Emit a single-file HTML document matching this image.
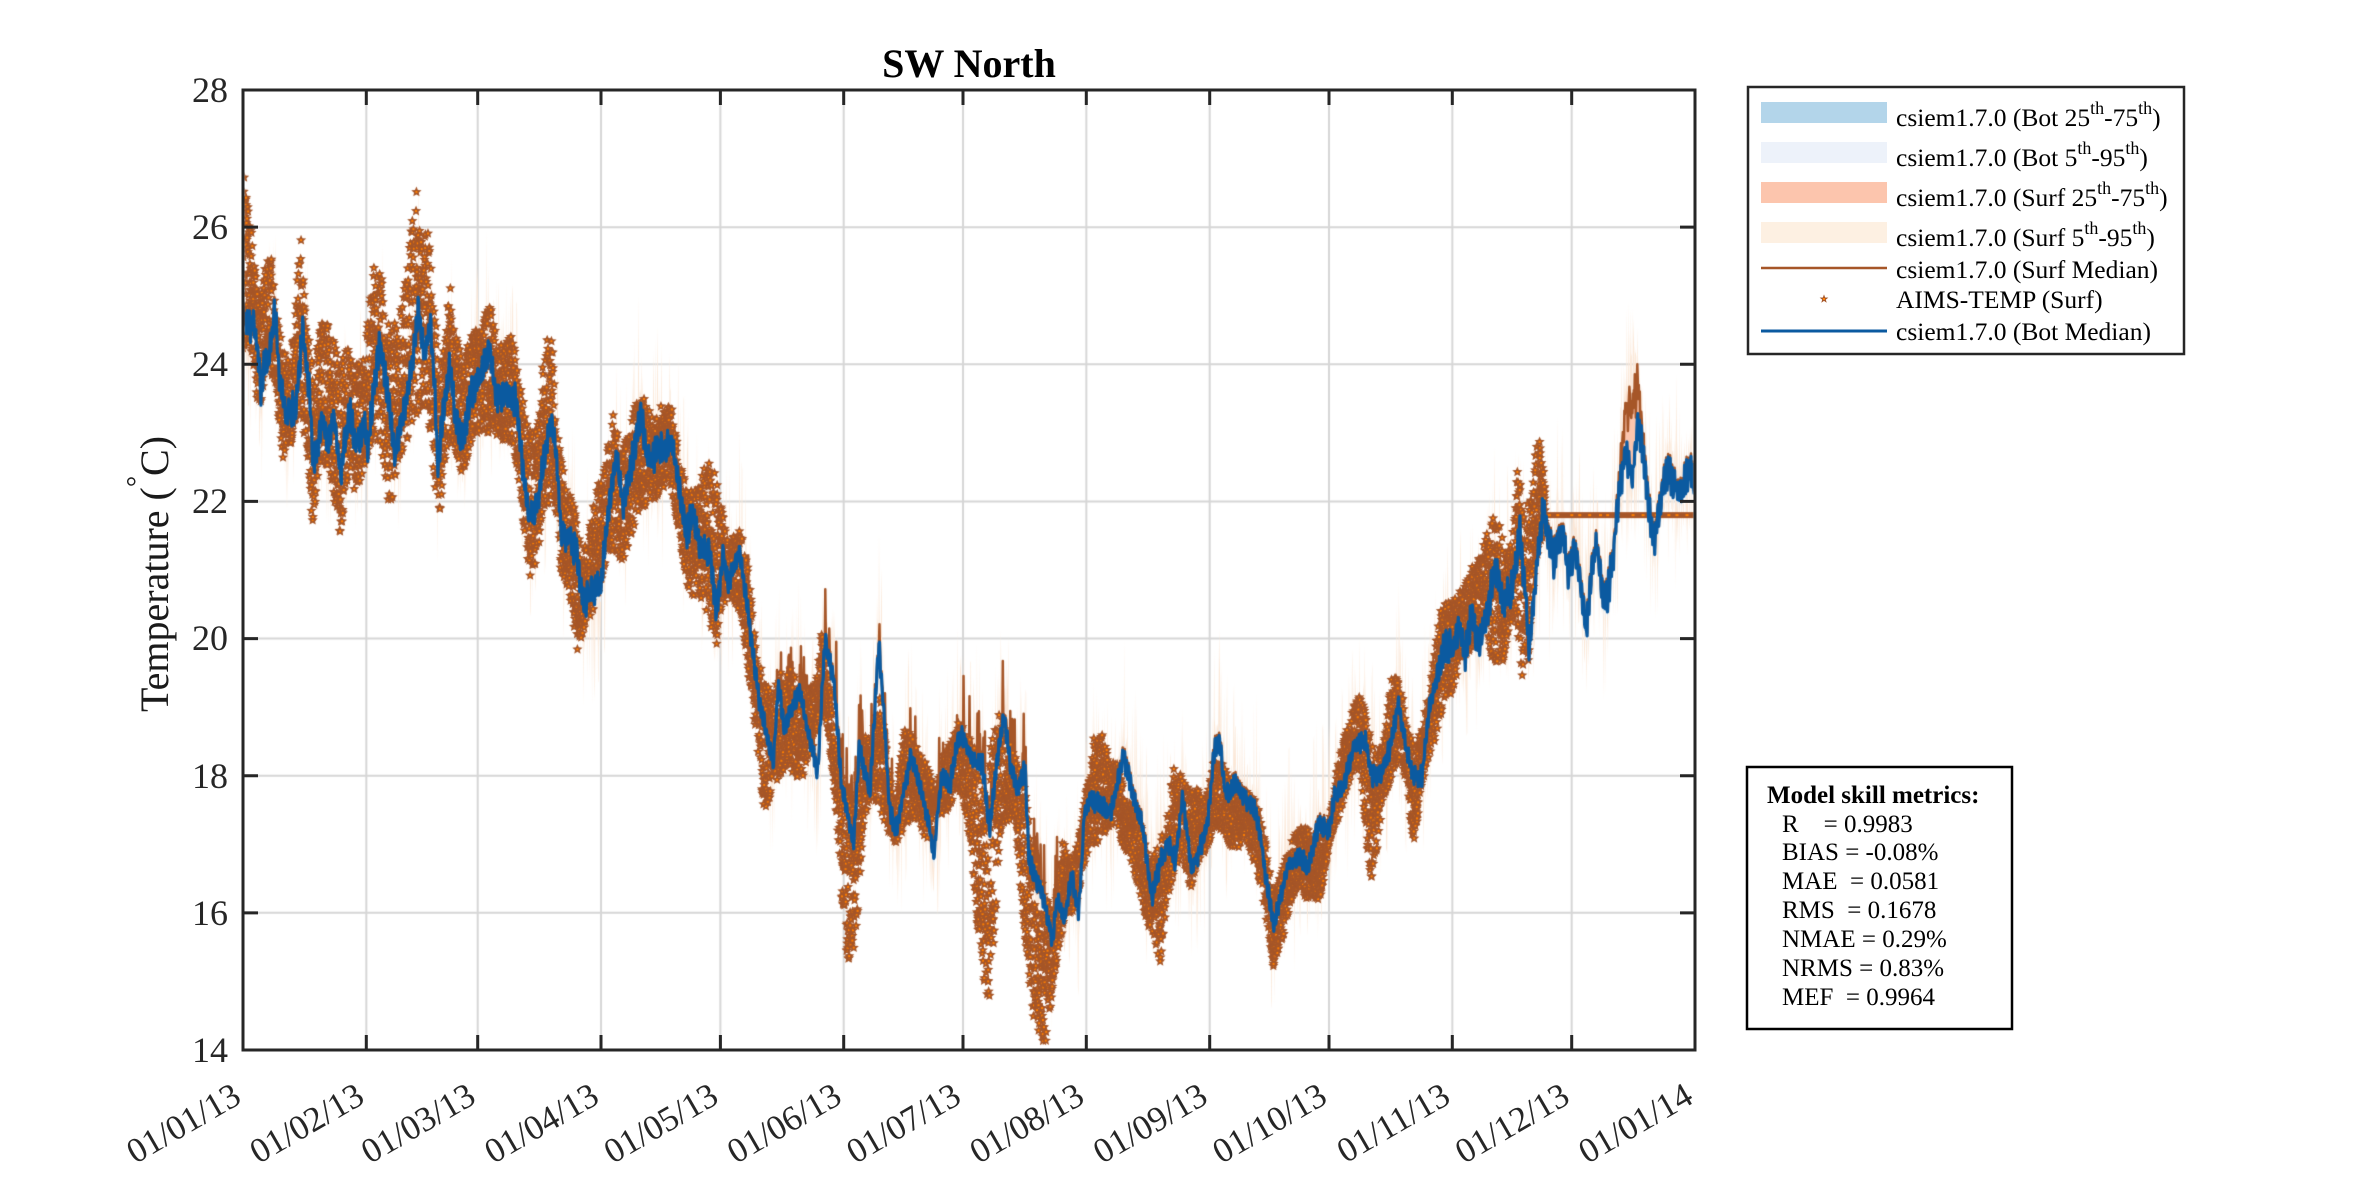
<!DOCTYPE html>
<html><head><meta charset="utf-8">
<style>
body{margin:0;background:#fff}
#w{position:relative;width:2362px;height:1181px;overflow:hidden;background:#fff}
canvas,svg{position:absolute;left:0;top:0}
text{font-family:"Liberation Serif","Times New Roman",serif}
</style></head>
<body><div id="w">
<canvas id="c" width="2362" height="1181"></canvas>
<svg width="2362" height="1181" viewBox="0 0 2362 1181">
<rect x="243" y="90" width="1452" height="960" fill="none" stroke="#262626" stroke-width="3"/>
<g stroke="#262626" stroke-width="3">
<path d="M366.3 1050V1035M477.7 1050V1035M601 1050V1035M720.4 1050V1035M843.7 1050V1035M963 1050V1035M1086.3 1050V1035M1209.7 1050V1035M1329 1050V1035M1452.3 1050V1035M1571.7 1050V1035"/>
<path d="M366.3 90V105M477.7 90V105M601 90V105M720.4 90V105M843.7 90V105M963 90V105M1086.3 90V105M1209.7 90V105M1329 90V105M1452.3 90V105M1571.7 90V105"/>
<path d="M243 912.9H258M243 775.7H258M243 638.6H258M243 501.4H258M243 364.3H258M243 227.1H258"/>
<path d="M1695 912.9H1680M1695 775.7H1680M1695 638.6H1680M1695 501.4H1680M1695 364.3H1680M1695 227.1H1680"/>
</g>
<g font-size="36" fill="#262626" text-anchor="end">
<text x="228" y="102">28</text>
<text x="228" y="239">26</text>
<text x="228" y="376">24</text>
<text x="228" y="513">22</text>
<text x="228" y="650">20</text>
<text x="228" y="788">18</text>
<text x="228" y="925">16</text>
<text x="228" y="1062">14</text>
</g>
<g font-size="35" fill="#262626" text-anchor="end">
<text transform="translate(243,1102) rotate(-30)">01/01/13</text>
<text transform="translate(366.3,1102) rotate(-30)">01/02/13</text>
<text transform="translate(477.7,1102) rotate(-30)">01/03/13</text>
<text transform="translate(601,1102) rotate(-30)">01/04/13</text>
<text transform="translate(720.4,1102) rotate(-30)">01/05/13</text>
<text transform="translate(843.7,1102) rotate(-30)">01/06/13</text>
<text transform="translate(963,1102) rotate(-30)">01/07/13</text>
<text transform="translate(1086.3,1102) rotate(-30)">01/08/13</text>
<text transform="translate(1209.7,1102) rotate(-30)">01/09/13</text>
<text transform="translate(1329,1102) rotate(-30)">01/10/13</text>
<text transform="translate(1452.3,1102) rotate(-30)">01/11/13</text>
<text transform="translate(1571.7,1102) rotate(-30)">01/12/13</text>
<text transform="translate(1695,1102) rotate(-30)">01/01/14</text>
</g>
<text transform="translate(168,712) rotate(-90)" font-size="40" fill="#1a1a1a">Temperature (<tspan font-size="28" dy="-22">°</tspan><tspan dy="22">C)</tspan></text>
<text x="969" y="77" font-size="40" font-weight="bold" text-anchor="middle" fill="#000">SW North</text>

<rect x="1748" y="87" width="436" height="267" fill="#fff" stroke="#262626" stroke-width="2.5"/>
<rect x="1761" y="102" width="126" height="21" fill="#b3d5ea"/>
<rect x="1761" y="142" width="126" height="21" fill="#edf2fa"/>
<rect x="1761" y="182" width="126" height="21" fill="#fcc5ad"/>
<rect x="1761" y="222" width="126" height="21" fill="#fdf0e2"/>
<line x1="1761" y1="268" x2="1887" y2="268" stroke="#a65628" stroke-width="2.5"/>
<polygon points="1824,294.4 1825.12,297.46 1828.37,297.58 1825.81,299.59 1826.7,302.72 1824,300.9 1821.3,302.72 1822.19,299.59 1819.63,297.58 1822.88,297.46" fill="#a65628"/>
<rect x="1823" y="298" width="2" height="2" fill="#ff7f00"/>
<line x1="1761" y1="331" x2="1887" y2="331" stroke="#0b5aa0" stroke-width="3"/>
<g font-size="25.5" fill="#000">
<text x="1896" y="126">csiem1.7.0 (Bot 25<tspan font-size="18" dy="-12">th</tspan><tspan dy="12">-75</tspan><tspan font-size="18" dy="-12">th</tspan><tspan dy="12">)</tspan></text>
<text x="1896" y="166">csiem1.7.0 (Bot 5<tspan font-size="18" dy="-12">th</tspan><tspan dy="12">-95</tspan><tspan font-size="18" dy="-12">th</tspan><tspan dy="12">)</tspan></text>
<text x="1896" y="206">csiem1.7.0 (Surf 25<tspan font-size="18" dy="-12">th</tspan><tspan dy="12">-75</tspan><tspan font-size="18" dy="-12">th</tspan><tspan dy="12">)</tspan></text>
<text x="1896" y="246">csiem1.7.0 (Surf 5<tspan font-size="18" dy="-12">th</tspan><tspan dy="12">-95</tspan><tspan font-size="18" dy="-12">th</tspan><tspan dy="12">)</tspan></text>
<text x="1896" y="278">csiem1.7.0 (Surf Median)</text>
<text x="1896" y="308">AIMS-TEMP (Surf)</text>
<text x="1896" y="340">csiem1.7.0 (Bot Median)</text>
</g>

<rect x="1747" y="767" width="265" height="262" fill="#fff" stroke="#000" stroke-width="2.5"/>
<g font-size="25" fill="#000">
<text x="1767" y="803" font-weight="bold">Model skill metrics:</text>
<text x="1782" y="832">R&#160;&#160;&#160;&#160;= 0.9983</text>
<text x="1782" y="860">BIAS = -0.08%</text>
<text x="1782" y="889">MAE&#160;&#160;= 0.0581</text>
<text x="1782" y="918">RMS&#160;&#160;= 0.1678</text>
<text x="1782" y="947">NMAE = 0.29%</text>
<text x="1782" y="976">NRMS = 0.83%</text>
<text x="1782" y="1005">MEF&#160;&#160;= 0.9964</text>
</g>
</svg>
</div>
<script>
(function(){
var rng=(function(a){return function(){a|=0;a=a+0x6D2B79F5|0;var t=Math.imul(a^a>>>15,1|a);t=t+Math.imul(t^t>>>7,61|t)^t;return((t^t>>>14)>>>0)/4294967296;};})(12345);
var cv=document.getElementById('c');var c=cv.getContext('2d');
function X(d){return 243+d*1452/365;}function Y(t){return 90+(28-t)*960/14;}
function interp(K,t){if(t<=K[0][0])return K[0][1];for(var i=1;i<K.length;i++){if(t<=K[i][0]){var a=K[i-1],b=K[i];return a[1]+(b[1]-a[1])*(t-a[0])/(b[0]-a[0]);}}return K[K.length-1][1];}
var B=[[0,24.7],[1.5,24.5],[2.5,24.6],[3.4,24.4],[4.6,23.6],[5.4,24.0],[6.5,24.1],[8,24.8],[9.2,23.8],[10.9,23.2],[12,23.3],[13.4,23.4],[15,24.55],[16.8,23.5],[17.6,22.5],[19,22.9],[20,23.2],[21.5,22.8],[22.6,23.3],[23.5,22.9],[24.7,22.4],[25.5,22.9],[26.8,23.3],[28,22.9],[29.3,22.9],[30.5,23.1],[31.4,22.8],[33,23.7],[34.4,24.3],[35.5,23.9],[36.9,23.3],[38.1,22.65],[39.5,23.1],[41,23.5],[42.7,24.0],[44,24.8],[45.7,24.15],[47,24.65],[48.2,23.65],[49,22.5],[50.3,23.3],[52,24.0],[53.6,23.1],[55.3,22.9],[57.8,23.65],[60.4,23.9],[62,24.2],[63.7,23.5],[65.5,23.6],[67,23.5],[68.7,23.5],[70,22.65],[71.7,21.8],[73.3,21.8],[74.6,22.2],[76.3,22.8],[77.5,23.2],[78.8,22.65],[80,21.5],[82,21.5],[83.8,21.25],[85.5,20.5],[87.6,20.7],[90,20.8],[91.8,21.8],[93.9,22.7],[95.6,21.9],[97.2,22.4],[100,23.3],[101.8,22.6],[104,22.7],[105.6,22.8],[108,22.8],[109.4,22.3],[111.5,21.5],[113,21.9],[114.8,21.3],[117.4,21.25],[119,20.4],[120.7,21.25],
[122,20.8],[124.8,21.3],[126,20.8],[128.4,19.7],[129.7,19.1],[132,18.5],[133.3,18.15],[134.6,19.35],[136,18.7],[138.2,19.0],[140,19.25],[141.8,18.7],[144.5,18.05],[146.3,20.0],[148.6,19.35],[150.4,17.9],[151.7,17.55],[153.5,17.0],[154.9,18.4],[157.6,17.75],[159.8,19.95],[161.2,18.85],[162.5,17.5],[164.3,17.2],[166,17.75],[167.9,18.3],[169.7,17.95],[171.5,17.55],[173.7,16.85],[175.5,18.0],[177.8,17.9],[179.6,18.5],[180.9,18.6],[183.2,18.2],[185.9,18.15],[187.7,17.2],[189.5,18.2],[191.3,18.9],[193,18.1],[194.8,17.8],[196.6,18.15],[197.5,16.8],[199.3,16.5],[201.1,16.25],[203.4,15.6],[204.7,16.2],[206.5,15.9],[208.3,16.55],[210.1,16.0],[211.5,17.45],[212.8,17.65],[215.5,17.6],[218.2,17.45],[221.3,18.3],[223.6,17.75],[226.3,17.2],[228.5,16.2],[230.8,16.8],[232.6,17.0],[234.4,16.75],[236.2,17.7],[238.4,16.65],[239.8,16.8],[242.5,17.3],[244.2,18.4],[245.5,18.5],[247,17.7],[249.3,17.9],[251.5,17.7],[254.2,17.5],
[255.6,17.2],[256.9,16.6],[259.1,15.8],[260.9,16.25],[262.7,16.7],[265,16.8],[267.7,16.7],[270.4,17.3],[273,17.2],[274.4,17.7],[276.6,17.85],[279.3,18.4],[282,18.55],[283.8,18.0],[286,18.0],[288.3,18.4],[290.5,19.05],[292.3,18.4],[294.1,18.0],[296.4,18.0],[298.2,19.0],[300,19.4],[301.7,19.85],[304,19.85],[305.8,20.15],[307.1,19.7],[308.9,20.4],[310.7,19.85],[312.9,20.4],[314.7,21.1],[316.5,20.6],[318.3,20.6],[319.7,20.95],[321,21.6],[322.4,20.6],[323.3,19.85],[324.6,20.6],[325.5,21.3],[326.9,21.9],[328.2,21.45],[329.5,21.15],[331.8,21.6],[333.1,20.95],[334.9,21.3],[336.7,20.6],[337.6,20.1],[339,20.95],[340.3,21.45],[341.7,20.6],[343,20.6],[344.3,21.15],[345.7,22.0],[347.5,22.75],[349.3,22.3],[350.6,23.2],[352,22.75],[353.3,21.9],[354.7,21.45],[356.5,22.0],[357.8,22.4],[359.6,22.3],[360.9,22.1],[362.7,22.3],[363.6,22.5],[365,22.2]];
var U=[[0,26.8],[1,26.6],[2,26.0],[3,25.4],[4,24.8],[5,25.2],[6,25.6],[7,25.7],[8,25.0],[10,24.2],[12,24.0],[13.5,25.2],[14.5,25.9],[16,24.6],[18,23.8],[19,24.6],[21,24.6],[22.5,24.5],[24,24.0],[26,24.3],[28,24.0],[30,24.0],[32,25.0],[33.5,25.7],[35,25.3],[36,24.6],[38,24.6],[40,24.9],[42,25.8],[43.5,26.8],[45,25.8],[46.5,26.1],[48,24.8],[50,24.0],[52,25.2],[54,24.3],[56,24.2],[58,24.5],[60,24.6],[62,24.9],[64,24.3],[66,24.3],[68,24.5],[70,23.6],[72,23.0],[74,23.4],[76,24.3],[77.5,24.5],[79,23.2],[81,22.3],[83,22.0],[85,21.3],[87,21.6],[89,22.2],[91,22.5],[93,23.3],[95,22.8],[97,23.0],[99,23.5],[101,23.5],[103,23.2],[105,23.4],[108,23.4],[110,22.5],[112,22.2],[114,22.2],[116,22.5],[118,22.6],[120,22.0],[122,21.4],[125,21.6],[127,21.0],[129,19.8],[131,19.4],[133,19.2],[135,19.5],[138,19.6],[140,19.2],[142,19.3],[144,19.3],[145.5,20.1],[147,19.6],[149,18.6],[150.5,18.0],[152,17.8],[154,17.7],[156,18.6],[158,18.5],[160,19.2],[162,18.3],[164,17.4],[166,18.7],[168,18.6],[170,18.3],[172,18.2],[174,17.7],[176,18.3],[178,18.5],[180,18.8],[182,18.6],[184,18.4],[186,17.8],[188,18.5],[190,19.0],[192,18.6],[194,18.3],[196,18.0],[198,17.2],[200,16.6],[202,16.2],[204,16.0],[206,17.1],[208,16.8],[210,17.0],[212,17.8],[214,18.6],[216,18.6],[218,18.2],[220,18.2],[222,17.6],[224,17.6],[226,17.2],[228,16.7],[230,17.0],[232,17.3],[234,18.1],[236,18.0],[238,17.8],[240,17.8],[242,17.6],[244,18.2],[246,18.2],[248,18.0],[250,17.9],[252,17.8],[255,17.6],[257,17.0],[259,16.3],[261,16.6],[263,17.0],[265,17.2],[267,17.3],[269,17.1],[271,17.1],[273,17.3],[275,18.1],[277,18.6],[279,19.0],[281,19.2],[283,18.7],[285,18.3],[287,18.6],[289,19.6],[291,19.3],[293,18.6],[295,18.5],[297,18.9],[299,19.6],[301,20.4],[303,20.6],[305,20.6],[307,20.8],[309,21.1],[311,21.2],[313,21.6],[315,21.9],[317,21.4],[319,21.4],[320.5,22.6],[322,21.8],[324,22.2],[325.5,23.1],[327.3,22.3]];
var L=[[0,24.2],[2,24.2],[4,23.3],[6,23.9],[8,23.8],[10,22.6],[12,22.8],[14,23.3],[16,22.8],[17.5,21.6],[19,22.5],[21,22.5],[23,22.0],[24.3,21.3],[26,22.3],[29,22.1],[31,22.6],[33,23.0],[35,22.6],[37,21.8],[39,22.6],[41,22.8],[43,23.2],[45,23.4],[47,23.0],[49,21.6],[51,22.7],[53,22.9],[55,22.3],[57,22.8],[60,23.0],[63,23.0],[65,22.9],[68,22.8],[70,22.0],[72,20.8],[74,21.0],[76,21.8],[78,22.2],[80,20.9],[82,20.7],[84,19.8],[86,20.2],[88,20.4],[90,20.8],[92,21.3],[95.5,21.1],[98,21.6],[100,21.9],[103,22.0],[106,22.2],[108,22.0],[110,21.4],[112,20.5],[114,20.6],[116,20.5],[119,19.9],[120,20.3],[122,20.6],[125,20.4],[127,19.5],[129,18.6],[131,17.4],[133,17.8],[135,18.0],[137,18.2],[139,17.9],[141,18.0],[143,18.3],[145,19.0],[147,18.7],[149,17.6],[150.5,16.2],[152,15.3],[153,15.2],[154.5,16.0],[156,17.3],[158,17.7],[160,17.5],[162,17.2],[164,17.0],[166,17.2],[168,17.4],[170,17.3],[172,17.0],[174,17.6],[176,17.4],[178,17.6],[180,17.8],[182,17.4],[184,16.2],[186,15.0],[187.5,14.7],[189,15.6],[190.5,17.2],[192,17.3],[194,17.4],[196,16.0],[197.5,15.1],[199,14.2],[200.5,14.0],[202,14.1],[203.5,14.9],[205,15.5],[207,16.0],[209,16.0],[211,16.6],[213,17.0],[215,17.0],[217,17.2],[219,17.3],[221,17.0],[223,16.8],[225,16.4],[227,15.9],[229,15.6],[230.5,15.2],[232,16.0],[234,16.6],[236,16.8],[238,16.3],[240,16.7],[242,16.9],[244,17.2],[246,17.2],[248,17.0],[250,16.9],[252,17.1],[255,16.6],[257,16.0],[259,15.2],[261,15.6],[263,15.9],[265,16.4],[267,16.2],[269,16.2],[271,16.2],[273,17.0],[275,17.3],[277,17.7],[279,18.1],[281,18.0],[282.5,17.0],[284,16.3],[285.5,17.2],[287,17.7],[289,18.0],[291,18.3],[293,17.6],[294.5,16.9],[296,17.8],[298,18.2],[300,18.6],[302,19.0],[304,19.2],[306,19.7],[308,19.8],[310,20.0],[312,20.2],[314,19.7],[316,19.5],[318,20.0],[320,20.3],[321.5,19.4],[323,19.5],[324.5,20.8],[326,21.4],[327.3,21.5]];

c.strokeStyle='#d6d6d6';c.lineWidth=2;
[31,59,90,120,151,181,212,243,273,304,334].forEach(function(d){c.beginPath();c.moveTo(X(d),90);c.lineTo(X(d),1050);c.stroke();});
for(var g=16;g<=26;g+=2){c.beginPath();c.moveTo(243,Y(g));c.lineTo(1695,Y(g));c.stroke();}

c.save();c.beginPath();c.rect(244.5,91.5,1449,957);c.clip();

var N=365*8,T=[],V=[];
for(var i=0;i<=N;i++){var t=i/8;var a=t<120?1.3:(t<300?0.8:1.4);
 var v=interp(B,t)+a*(0.13*Math.sin(2*Math.PI*t*1.932+0.7)+(rng()-0.5)*0.16);T.push(t);V.push(v);}

function band(up,dn,col){c.beginPath();for(var i=0;i<=N;i++)c.lineTo(X(T[i]),Y(up[i]));for(var j=N;j>=0;j--)c.lineTo(X(T[j]),Y(dn[j]));c.closePath();c.fillStyle=col;c.fill();}
var up=[],dn=[];
for(i=0;i<=N;i++){var t2=T[i];var u=V[i]+0.2+Math.pow(rng(),4)*1.6,d=V[i]-0.2-Math.pow(rng(),4)*1.4;
 if(t2>344&&t2<354){u+=1.6*Math.exp(-Math.pow((t2-349)/2.2,2))*(0.4+0.6*rng());}
 up.push(u);dn.push(d);}
band(up,dn,'#fbe8d8');
up=[];dn=[];for(i=0;i<=N;i++){up.push(V[i]+0.12+rng()*0.06);dn.push(V[i]-0.12-rng()*0.06);}
band(up,dn,'#eaf1f9');
up=[];dn=[];for(i=0;i<=N;i++){up.push(V[i]+0.06);dn.push(V[i]-0.06);}
band(up,dn,'#bcd8ec');
up=[];dn=[];for(i=0;i<=N;i++){var t3=T[i];var e=(t3>344&&t3<354)?0.9*Math.exp(-Math.pow((t3-349)/2.2,2)):0;up.push(V[i]+0.08+e);dn.push(V[i]-0.02);}
band(up,dn,'#fcc5ad');

c.beginPath();
for(i=0;i<=N;i++){var t4=T[i];var s=V[i]+0.04;
 if(t4>125&&t4<205&&rng()<0.22)s+=rng()*0.9;
 if(t4>300&&t4<327&&rng()<0.12)s+=rng()*0.6;
 if(t4>344&&t4<354)s+=(0.4+0.6*rng())*1.2*Math.exp(-Math.pow((t4-349)/2.2,2));
 c.lineTo(X(t4),Y(s));}
c.strokeStyle='#a65628';c.lineWidth=2.5;c.lineJoin='round';c.stroke();

function star(x,y){c.beginPath();for(var k=0;k<10;k++){var r=k%2?2.5:5.4;var an=-Math.PI/2+k*Math.PI/5;c.lineTo(x+r*Math.cos(an),y+r*Math.sin(an));}c.closePath();c.fillStyle='#a65628';c.fill();c.fillStyle='#ff7f00';c.fillRect(x-1,y-1,2,2);}
for(var dd=0;dd<=327.3;dd+=1/32){var uu=interp(U,dd),ll=interp(L,dd);var r0=rng();var tv=ll+(uu-ll)*r0;star(X(dd),Y(tv));}
c.fillStyle='#a65628';c.fillRect(X(327.6),Y(21.8)-3,X(365)-X(327.6)+4,6);
c.fillStyle='#ff7f00';for(var fd=328;fd<365;fd+=1.7+rng()*2){c.fillRect(X(fd),Y(21.8)-1,3,2);}

c.beginPath();for(i=0;i<=N;i++)c.lineTo(X(T[i]),Y(V[i]));
c.strokeStyle='#0b5aa0';c.lineWidth=3.2;c.lineJoin='round';c.stroke();
c.restore();
})();
</script>
</body></html>
